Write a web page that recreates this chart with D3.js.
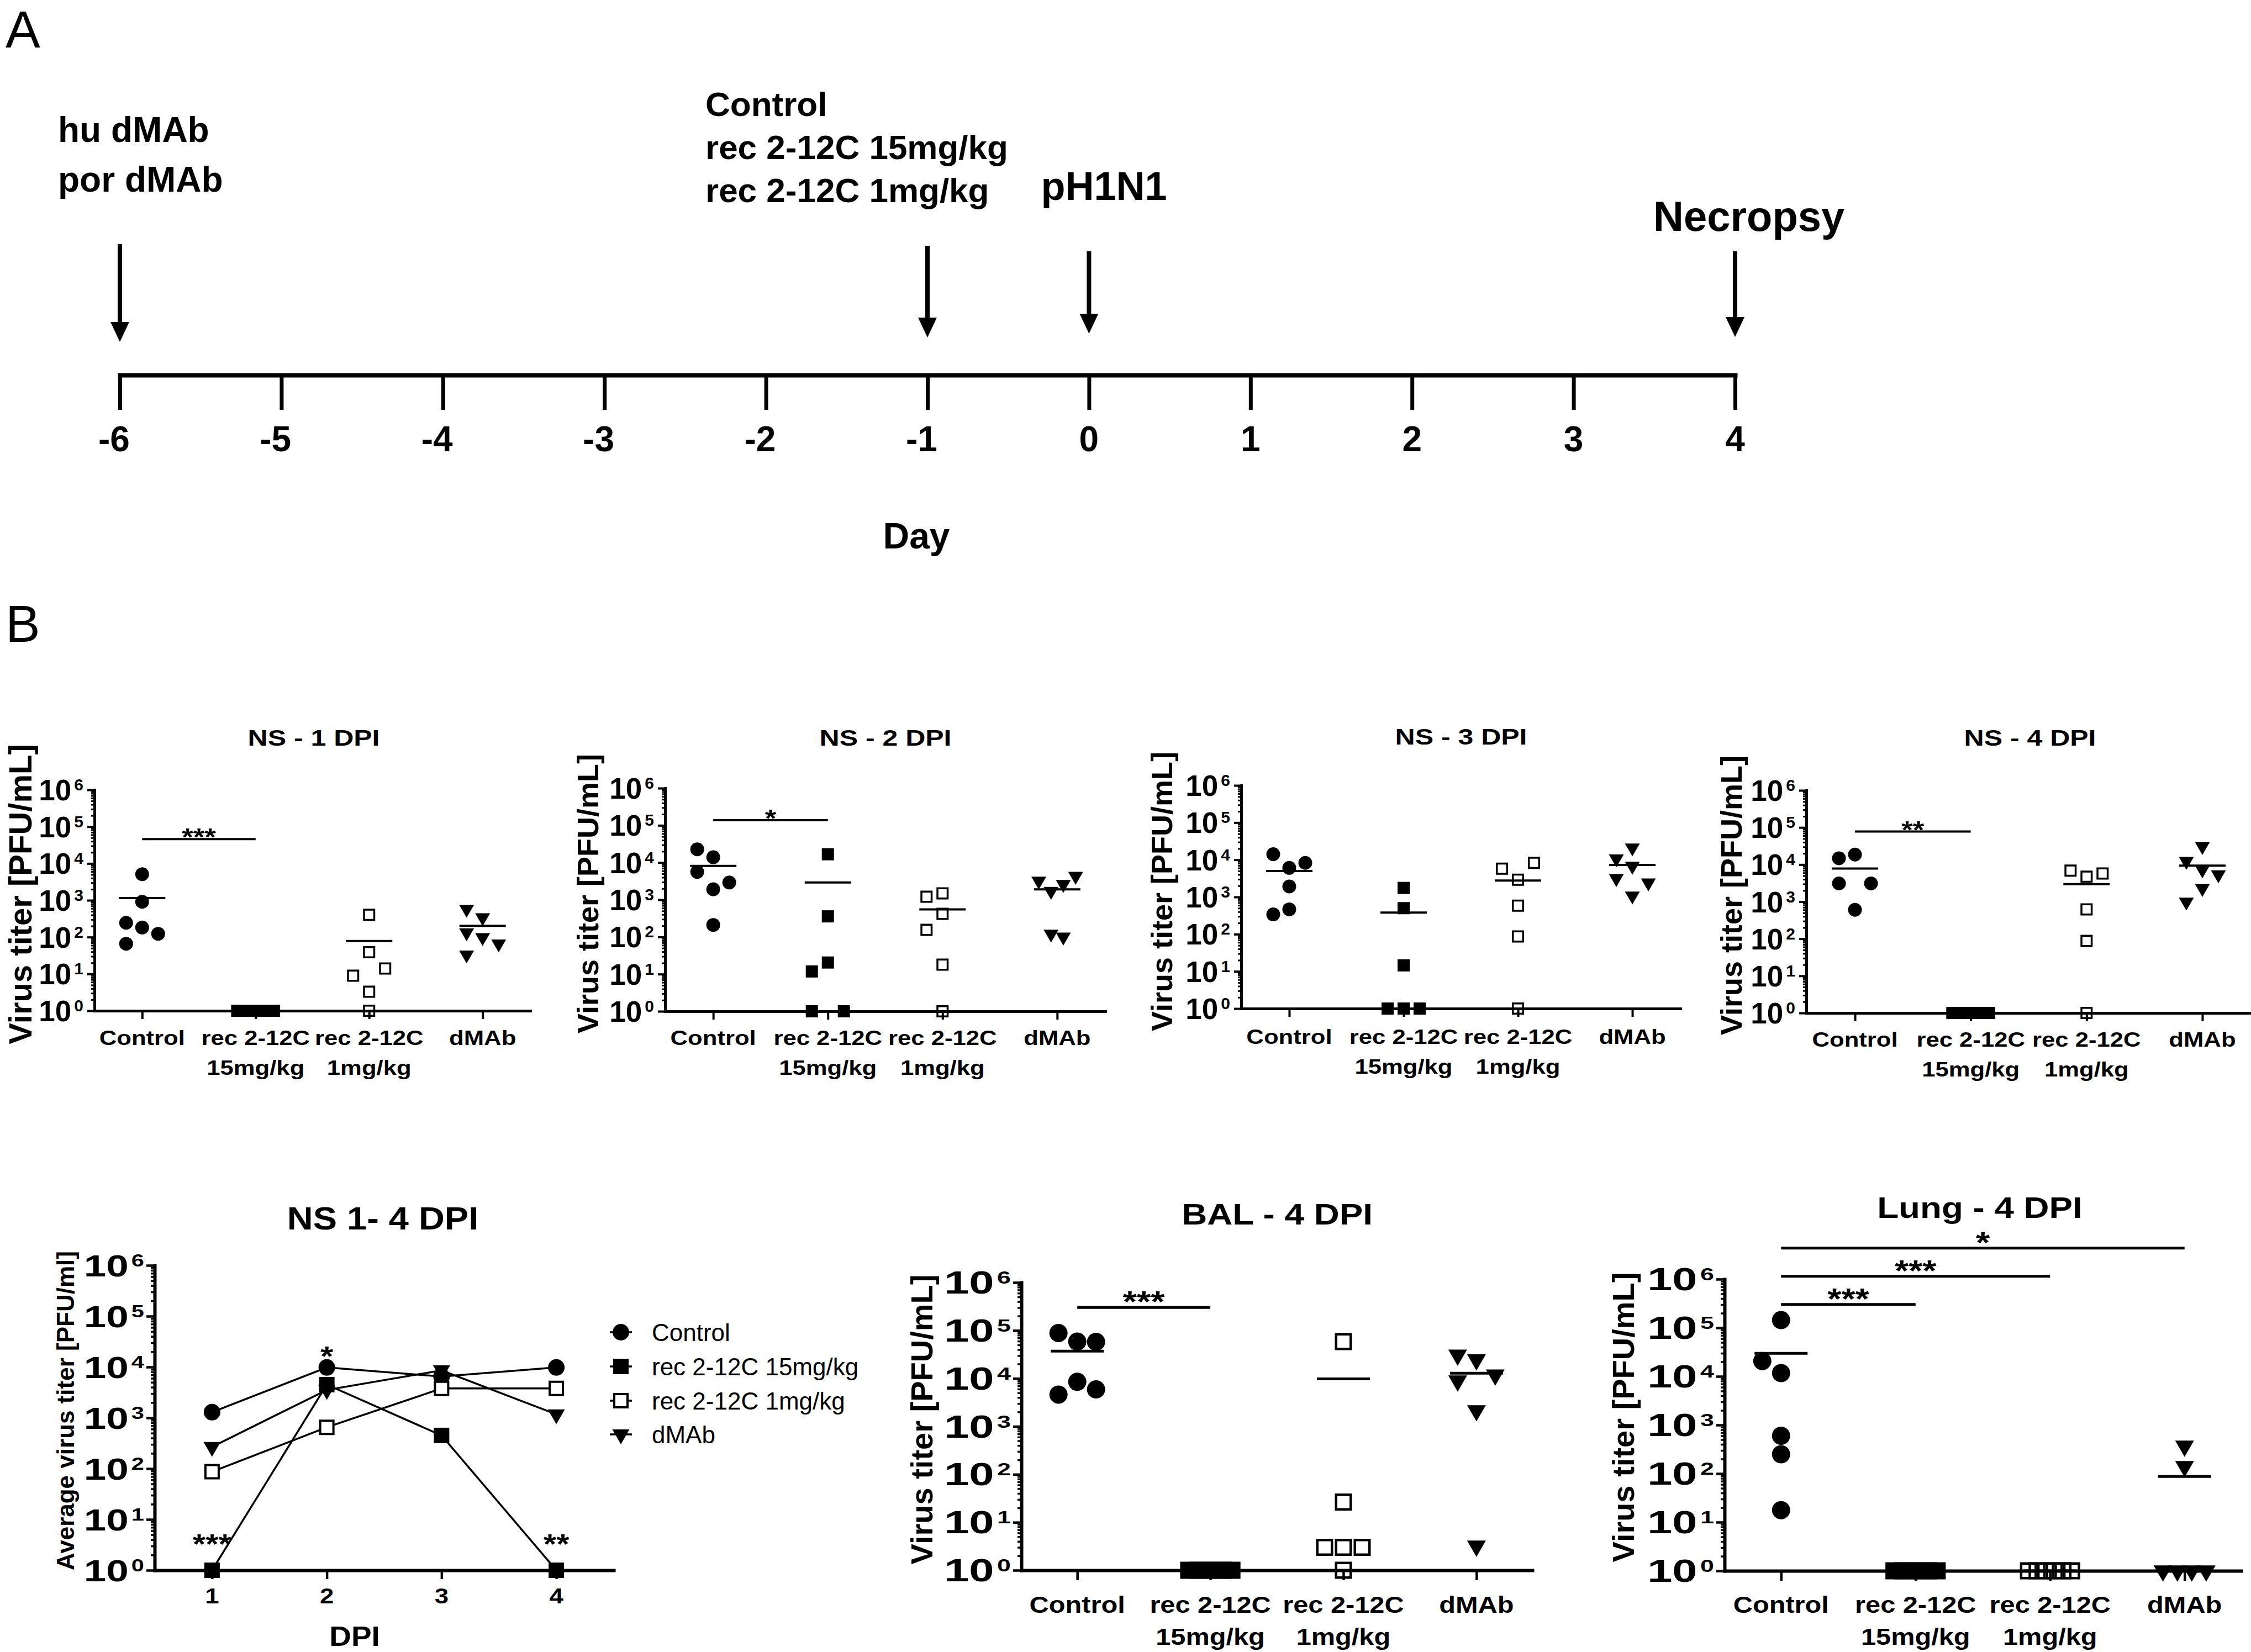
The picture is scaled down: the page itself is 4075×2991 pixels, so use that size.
<!DOCTYPE html>
<html><head><meta charset="utf-8">
<script src="https://cdn.jsdelivr.net/npm/d3@7"></script>
<style>
html,body{margin:0;padding:0;background:#fff;}
svg text{font-family:'Liberation Sans',Arial,Helvetica,sans-serif;fill:#000;}
</style></head><body>
<svg id="fig" width="4075" height="2991" xmlns="http://www.w3.org/2000/svg"></svg>
<script>
// ================= DATA =================
const timelineDays = [-6,-5,-4,-3,-2,-1,0,1,2,3,4];
const eventDays = [-6,-1,0,4];
const eventLabels = [["hu dMAb","por dMAb"],["Control","rec 2-12C 15mg/kg","rec 2-12C 1mg/kg"],["pH1N1"],["Necropsy"]];

const groups = ["Control","rec 2-12C 15mg/kg","rec 2-12C 1mg/kg","dMAb"];
const groupLine1 = ["Control","rec 2-12C","rec 2-12C","dMAb"];
const groupLine2 = ["","15mg/kg","1mg/kg",""];
const logTickValues = [1,10,100,1000,10000,100000,1000000];
const logTickExponents = ["0","1","2","3","4","5","6"];
const panelTitles = ["NS - 1 DPI","NS - 2 DPI","NS - 3 DPI","NS - 4 DPI","NS 1- 4 DPI","BAL - 4 DPI","Lung - 4 DPI"];
const yLabelText = "Virus titer [PFU/mL]";
const yLabelAvg = "Average virus titer [PFU/ml]";

// NS - 1 DPI
const ns1Control = [5100, 910, 182, 245, 123, 66];
const ns1Rec15   = [1, 1, 1, 1, 1, 1];
const ns1Rec1    = [405, 39, 3.3, 1, 9, 14];
const ns1DMAb    = [340, 575, 98, 132, 66, 33];
const ns1Means   = [1150, 1, 78, 203];
const ns1Sig     = [{from:0, to:1, level:45700, label:"***"}];
// NS - 2 DPI
const ns2Control = [13900, 22700, 5600, 1910, 2900, 210];
const ns2Rec15   = [16700, 357, 20.5, 11.8, 1, 1];
const ns2Rec1    = [417, 1210, 1480, 155, 18, 1];
const ns2DMAb    = [2600, 1700, 4300, 3200, 100, 120];
const ns2Means   = [8150, 2900, 550, 1900];
const ns2Sig     = [{from:0, to:1, level:138000, label:"*"}];
// NS - 3 DPI
const ns3Control = [6060, 14100, 8260, 1920, 465, 340];
const ns3Rec15   = [1750, 500, 14.5, 1, 1, 1];
const ns3Rec1    = [2900, 5760, 8260, 585, 87, 1];
const ns3DMAb    = [21000, 10700, 6760, 3160, 2400, 1070];
const ns3Means   = [4980, 380, 2770, 7240];
const ns3Sig     = [];
// NS - 4 DPI
const ns4Control = [18600, 14800, 3100, 3100, 605];
const ns4Rec15   = [1, 1, 1, 1, 1, 1];
const ns4Rec1    = [4700, 6900, 5750, 620, 88, 1];
const ns4DMAb    = [31000, 12300, 7250, 5350, 2290, 985];
const ns4Means   = [7800, 1, 2960, 9350];
const ns4Sig     = [{from:0, to:1, level:77600, label:"**"}];
// BAL - 4 DPI
const balControl = [58500, 88500, 58000, 8500, 4600, 5900];
const balRec15   = [1, 1, 1, 1, 1, 1];
const balRec1    = [58500, 26.5, 3, 3, 3, 1];
const balDMAb    = [24500, 30700, 8900, 11800, 2130, 3.2];
const balMeans   = [37000, 1, 9800, 12800];
const balSig     = [{from:0, to:1, level:302000, label:"***"}];
// Lung - 4 DPI
const lungControl = [144000, 11700, 20700, 600, 250, 17.7];
const lungRec15   = [1, 1, 1, 1, 1, 1];
const lungRec1    = [1, 1, 1, 1, 1, 1];
const lungDMAb    = [370, 140, 1, 1, 1, 1];
const lungMeans   = [29800, 1, 1, 87];
const lungSig     = [{from:0, to:1, level:302000, label:"***"},
                     {from:0, to:2, level:1150000, label:"***"},
                     {from:0, to:3, level:4370000, label:"*"}];
// NS 1-4 DPI (averages)
const dpiDays    = [1, 2, 3, 4];
const avgControl = [1290, 9800, 6500, 9800];
const avgRec15   = [1, 4500, 450, 1];
const avgRec1    = [87, 650, 3780, 3780];
const avgDMAb    = [268, 3530, 8600, 1170];
const legendLabels = ["Control","rec 2-12C 15mg/kg","rec 2-12C 1mg/kg"," dMAb"];
const lineStars  = [{dpi:1, level:2.14, label:"***"},{dpi:2, level:10500, label:"*"},{dpi:4, level:2.14, label:"**"}];

// ================= HELPERS =================
const svg = d3.select('#fig');
svg.append('rect').attr('width',4075).attr('height',2991).attr('fill','#fff');

function T(parent, x, y, str, o={}){
  const fs=o.fs||40, sx=o.sx||1;
  let tr=`translate(${x},${y})`;
  if(o.rot) tr+=` rotate(${o.rot})`;
  if(sx!==1) tr+=` scale(${sx},1)`;
  const t=parent.append('text').attr('transform',tr).attr('font-size',fs)
    .attr('font-weight',o.fw||'bold').attr('text-anchor',o.anchor||'middle');
  if(o.base) t.attr('dominant-baseline',o.base);
  if(str!==null && str!==undefined) t.text(str);
  return t;
}
function cleanAxis(sel){ sel.selectAll('.tick text').remove(); sel.attr('font-size',null).attr('font-family',null); return sel; }

const shapes = ['circle','square','open','tri'];
function drawMarker(g, shape, S, x, y, openFill){
  let p;
  if(shape==='circle') p=g.append('path').attr('d',d3.symbol(d3.symbolCircle,Math.PI*S.circ*S.circ/4)()).attr('fill','#000');
  else if(shape==='square') p=g.append('path').attr('d',d3.symbol(d3.symbolSquare,S.sq*S.sq)()).attr('fill','#000');
  else if(shape==='open'){ const s=S.sq-S.osw; p=g.append('path').attr('d',d3.symbol(d3.symbolSquare,s*s)()).attr('fill',openFill||'none').attr('stroke','#000').attr('stroke-width',S.osw); }
  else p=g.append('path').attr('d',d3.symbol(d3.symbolTriangle,Math.sqrt(3)/4*S.tri*S.tri)()).attr('fill','#000');
  p.attr('transform',`translate(${x},${y})`+(shape==='tri'?' rotate(180)':''));
}

// column-scatter spreading (greedy, ties spread evenly)
function spread(vals, y, thr){
  const n=vals.length, off=new Array(n).fill(null), placed=[];
  const byVal=d3.group(d3.range(n), i=>vals[i]);
  for(const [v,idx] of byVal){
    if(idx.length<2) continue;
    const m=idx.length, S=m<=3?1:1.15;
    idx.forEach((i,j)=>{ off[i]=-S+2*S*j/(m-1); placed.push({o:off[i],y:y(v)}); });
  }
  const cands=[0,-1,1,-2,2,-3,3];
  for(let i=0;i<n;i++){
    if(off[i]!==null) continue;
    const yy=y(vals[i]);
    for(const c of cands){
      if(placed.every(p=>Math.abs(p.o-c)>=0.9||Math.abs(p.y-yy)>=thr)){ off[i]=c; break; }
    }
    if(off[i]===null) off[i]=0;
    placed.push({o:off[i],y:yy});
  }
  const mn=d3.min(off), mx=d3.max(off);
  if(mx-mn>2.3){ const c=(mx+mn)/2, k=2.3/(mx-mn); for(let i=0;i<n;i++) off[i]=(off[i]-c)*k; }
  return off;
}

function logYAxis(g, y, x0, S){
  const minors=[]; for(let e=0;e<6;e++) for(let m=2;m<=9;m++) minors.push(m*Math.pow(10,e));
  const mi=g.append('g').attr('transform',`translate(${x0},0)`)
    .call(d3.axisLeft(y).tickValues(minors).tickSize(S.minor).tickSizeOuter(0).tickFormat(''));
  cleanAxis(mi); mi.select('.domain').remove();
  mi.selectAll('.tick line').attr('stroke-width',S.mtw);
  const ma=g.append('g').attr('transform',`translate(${x0},0)`)
    .call(d3.axisLeft(y).tickValues(logTickValues).tickSize(S.major).tickSizeOuter(0).tickFormat(''));
  cleanAxis(ma);
  ma.select('.domain').attr('stroke-width',S.sw).attr('stroke-linecap','square');
  ma.selectAll('.tick line').attr('stroke-width',S.tw);
  logTickValues.forEach((v,i)=>{
    const t=T(g, x0-S.major-S.tickGap, y(v)+S.tickBase, null, {fs:S.tickFs, anchor:'end', sx:S.tickSx});
    t.append('tspan').text('10');
    t.append('tspan').attr('font-size',S.expFs).attr('dx',S.expDx).attr('dy',-(S.tickBase-S.expBase)).text(logTickExponents[i]);
  });
}

const NS_STYLE = {sw:5, tw:4, mtw:3, major:13, minor:6, xTick:15, circ:25, sq:22, tri:27, osw:3.5,
  slot:29, thr:32, meanHalf:42, meanSw:4, catFs:37, catSx:1.18, titleFs:41, titleSx:1.22,
  tickFs:53, expFs:30, tickSx:1, tickBase:19, expBase:1, tickGap:7, expDx:5,
  starFs:44, starSx:1.2, starOff:12, sigSw:4};
const BOT_STYLE = {sw:6, tw:4.5, mtw:3.5, major:15, minor:7, xTick:18, circ:33, sq:31, tri:34, osw:4.5,
  slot:34, thr:40, meanHalf:48, meanSw:5, catFs:42, catSx:1.16, titleFs:54, titleSx:1.18,
  tickFs:58, expFs:32, tickSx:1.4, tickBase:20, expBase:2, tickGap:4, expDx:4,
  starFs:54, starSx:1.2, starOff:8, sigSw:5};

function drawScatter(L, S, title, series, means, sigs){
  const g=svg.append('g');
  const y=d3.scaleLog().domain([1,1e6]).range([L.y0,L.y6]);
  const x=d3.scalePoint().domain(groups).range([L.x0,L.x1]).padding(0.42);
  logYAxis(g, y, L.x0, S);
  const xa=g.append('g').attr('transform',`translate(0,${L.y0})`)
    .call(d3.axisBottom(x).tickSize(S.xTick).tickSizeOuter(0).tickFormat(''));
  cleanAxis(xa);
  xa.select('.domain').attr('stroke-width',S.sw).attr('stroke-linecap','square');
  xa.selectAll('.tick line').attr('stroke-width',S.tw);
  groups.forEach((gn,i)=>{
    T(g, x(gn), L.cat1, groupLine1[i], {fs:S.catFs, sx:S.catSx});
    if(groupLine2[i]) T(g, x(gn), L.cat2, groupLine2[i], {fs:S.catFs, sx:S.catSx});
  });
  T(g, L.titleX, L.titleY, title, {fs:S.titleFs, sx:S.titleSx});
  T(g, L.ylabX, L.ylabY, yLabelText, {fs:L.ylabFs, rot:-90, base:'central'});
  const thr=L.thr||S.thr;
  series.forEach((vals,i)=>{
    const offs=spread(vals, y, thr);
    vals.forEach((v,j)=>drawMarker(g, shapes[i], S, x(groups[i])+offs[j]*S.slot, y(v)));
  });
  means.forEach((m,i)=>{
    g.append('line').attr('x1',x(groups[i])-S.meanHalf).attr('x2',x(groups[i])+S.meanHalf)
      .attr('y1',y(m)).attr('y2',y(m)).attr('stroke','#000').attr('stroke-width',S.meanSw);
  });
  sigs.forEach(s=>{
    const yy=y(s.level), xa1=x(groups[s.from]), xa2=x(groups[s.to]);
    g.append('line').attr('x1',xa1).attr('x2',xa2).attr('y1',yy).attr('y2',yy).attr('stroke','#000').attr('stroke-width',S.sigSw);
    T(g, (xa1+xa2)/2, yy+S.starOff, s.label, {fs:S.starFs, sx:S.starSx});
  });
}

// ================= PANEL A : timeline =================
const tl=svg.append('g');
T(tl, 10, 86, 'A', {fs:94, fw:'normal', anchor:'start'});
const tx=d3.scaleLinear().domain([-6,4]).range([217,3141]);
const axisY=679;
const ta=tl.append('g').attr('transform',`translate(0,${axisY})`)
  .call(d3.axisBottom(tx).tickValues(timelineDays).tickSize(63).tickSizeOuter(0).tickFormat(''));
cleanAxis(ta);
ta.select('.domain').attr('stroke-width',8).attr('stroke-linecap','square');
ta.selectAll('.tick line').attr('stroke-width',7);
timelineDays.forEach(d=>T(tl, tx(d)+0.278*64, 817, String(d), {fs:64, anchor:'end'}));
T(tl, 1659, 993, 'Day', {fs:66});
// event arrows and labels (layout)
const evLayout=[
  {top:442, tip:619, dx:-112, base:[257,347], fs:64},
  {top:445, tip:611, dx:-402, base:[210,288,366], fs:62},
  {top:455, tip:604, dx:-87,  base:[362], fs:72},
  {top:455, tip:610, dx:-148, base:[418], fs:76}
];
eventDays.forEach((d,i)=>{
  const L=evLayout[i], xx=tx(d), head=36, hw=17;
  tl.append('line').attr('x1',xx).attr('x2',xx).attr('y1',L.top).attr('y2',L.tip-head+2).attr('stroke','#000').attr('stroke-width',8);
  tl.append('path').attr('d',`M${xx-hw},${L.tip-head}L${xx+hw},${L.tip-head}L${xx},${L.tip}Z`).attr('fill','#000');
  eventLabels[i].forEach((s,k)=>T(tl, xx+L.dx, L.base[k], s, {fs:L.fs, anchor:'start'}));
});

// ================= PANEL B =================
T(svg, 10, 1162, 'B', {fs:94, fw:'normal', anchor:'start'});
const nsLayouts=[
  {x0:171, x1:960,  y0:1830, y6:1430, titleX:568,  titleY:1350, ylabX:36,   ylabY:1619, ylabFs:58, cat1:1892, cat2:1946},
  {x0:1204,x1:2001, y0:1831, y6:1427, titleX:1603, titleY:1350, ylabX:1064, ylabY:1618, ylabFs:54, cat1:1892, cat2:1946},
  {x0:2247,x1:3042, y0:1826, y6:1422, titleX:2645, titleY:1348, ylabX:2103, ylabY:1614, ylabFs:54, cat1:1890, cat2:1944},
  {x0:3270,x1:4075, y0:1834, y6:1431, titleX:3675, titleY:1350, ylabX:3134, ylabY:1621, ylabFs:54, cat1:1895, cat2:1949}
];
drawScatter(nsLayouts[0], NS_STYLE, panelTitles[0], [ns1Control,ns1Rec15,ns1Rec1,ns1DMAb], ns1Means, ns1Sig);
drawScatter(nsLayouts[1], NS_STYLE, panelTitles[1], [ns2Control,ns2Rec15,ns2Rec1,ns2DMAb], ns2Means, ns2Sig);
drawScatter(nsLayouts[2], NS_STYLE, panelTitles[2], [ns3Control,ns3Rec15,ns3Rec1,ns3DMAb], ns3Means, ns3Sig);
drawScatter(nsLayouts[3], NS_STYLE, panelTitles[3], [ns4Control,ns4Rec15,ns4Rec1,ns4DMAb], ns4Means, ns4Sig);

const balLayout ={x0:1849,x1:2774, y0:2843, y6:2322, titleX:2312, titleY:2217, ylabX:1668, ylabY:2570, ylabFs:56, cat1:2920, cat2:2978, thr:40};
const lungLayout={x0:3122,x1:4057, y0:2844, y6:2316, titleX:3584, titleY:2205, ylabX:2938, ylabY:2566, ylabFs:56, cat1:2920, cat2:2978, thr:32};
drawScatter(balLayout, BOT_STYLE, panelTitles[5], [balControl,balRec15,balRec1,balDMAb], balMeans, balSig);
drawScatter(lungLayout, BOT_STYLE, panelTitles[6], [lungControl,lungRec15,lungRec1,lungDMAb], lungMeans, lungSig);

// ================= NS 1-4 DPI line chart =================
(function(){
  const S=Object.assign({}, BOT_STYLE, {circ:30, sq:28, tri:31, osw:4, tickSx:1.3, tickFs:56});
  const g=svg.append('g');
  const x=d3.scaleLinear().domain([0.5,4.5]).range([280,1111]);
  const y=d3.scaleLog().domain([1,1e6]).range([2843,2291]);
  logYAxis(g, y, 280, S);
  const xa=g.append('g').attr('transform','translate(0,2843)')
    .call(d3.axisBottom(x).tickValues(dpiDays).tickSize(16).tickSizeOuter(0).tickFormat(''));
  cleanAxis(xa);
  xa.select('.domain').attr('stroke-width',S.sw).attr('stroke-linecap','square');
  xa.selectAll('.tick line').attr('stroke-width',S.tw);
  dpiDays.forEach(d=>T(g, x(d), 2903, String(d), {fs:38, sx:1.2}));
  T(g, 642, 2980, 'DPI', {fs:50, sx:1.1});
  T(g, 693, 2226, panelTitles[4], {fs:58, sx:1.12});
  T(g, 118, 2554, yLabelAvg, {fs:44, rot:-90, base:'central'});
  const series=[avgControl, avgRec15, avgRec1, avgDMAb];
  const line=d3.line().x((v,i)=>x(dpiDays[i])).y(v=>y(v));
  series.forEach(s=>g.append('path').attr('d',line(s)).attr('fill','none').attr('stroke','#000').attr('stroke-width',3.5));
  series.forEach((s,i)=>s.forEach((v,k)=>drawMarker(g, shapes[i], S, x(dpiDays[k]), y(v), '#fff')));
  lineStars.forEach(st=>T(g, x(st.dpi), y(st.level), st.label, {fs:50, sx:1.2}));
  // legend
  const legY=[2412,2474,2536,2597];
  legendLabels.forEach((lab,i)=>{
    g.append('line').attr('x1',1104).attr('x2',1144).attr('y1',legY[i]).attr('y2',legY[i]).attr('stroke','#000').attr('stroke-width',3.5);
    drawMarker(g, shapes[i], S, 1124, legY[i], '#fff');
    T(g, 1180, legY[i]+16, lab, {fs:44, fw:'normal', anchor:'start'});
  });
})();
</script></body></html>
